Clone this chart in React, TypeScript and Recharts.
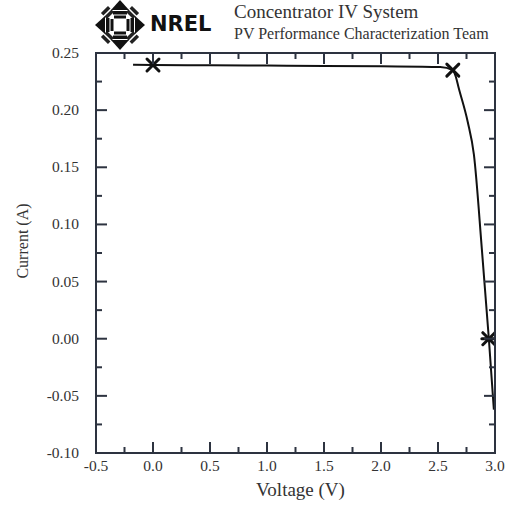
import { ComposedChart, Line, Scatter, XAxis, YAxis, CartesianGrid } from 'recharts'

// I-V curve
const voltage = [-0.175, 0.0, 0.5, 1.0, 1.5, 2.0, 2.52, 2.63, 2.657, 2.68, 2.76, 2.815, 2.885, 2.946, 2.99]
const current = [0.2397, 0.2395, 0.2393, 0.239, 0.2387, 0.2383, 0.2377, 0.235, 0.229, 0.22, 0.19, 0.161, 0.078, 0.0, -0.062]

// Isc, Pmax and Voc markers
const keyVoltage = [0.0, 2.63, 2.946]
const keyCurrent = [0.2395, 0.235, 0.0]
const keyShape = ['cross', 'cross', 'star']

const xTicks = [-0.5, -0.25, 0, 0.25, 0.5, 0.75, 1.0, 1.25, 1.5, 1.75, 2.0, 2.25, 2.5, 2.75, 3.0]
const xMajor = [-0.5, 0, 0.5, 1.0, 1.5, 2.0, 2.5, 3.0]
const yTicks = [-0.1, -0.075, -0.05, -0.025, 0, 0.025, 0.05, 0.075, 0.1, 0.125, 0.15, 0.175, 0.2, 0.225, 0.25]
const yMajor = [-0.1, -0.05, 0, 0.05, 0.1, 0.15, 0.2, 0.25]

const curve = voltage.map((v, i) => ({ v, i: current[i] }))
const markers = keyVoltage.map((v, k) => ({ v, i: keyCurrent[k], shape: keyShape[k] }))

const FONT = '"Liberation Serif", "DejaVu Serif", serif'
const INK = '#333'
const FRAME = '#2d3340'

// chart box and plot area size (plot = chart minus left axis, right margin, top margin, x axis)
const CHART_W = 508
const CHART_H = 506
const MARGIN = { top: 53, right: 13, bottom: 0, left: 0 }
const Y_AXIS_W = 96
const X_AXIS_H = 53
const PLOT_W = CHART_W - Y_AXIS_W - MARGIN.right
const PLOT_H = CHART_H - MARGIN.top - X_AXIS_H

const isMajor = (list: number[], v: number) => list.some((m) => Math.abs(m - v) < 1e-6)

// bottom tick + mirrored top tick; the first tick also draws the box around the plot
function BottomTick(props: any) {
  const x = Number(props.x)
  const y = Number(props.y)
  const value = props.payload.value
  const major = isMajor(xMajor, value)
  const len = major ? 11 : 6
  const top = y - PLOT_H
  return (
    <g>
      {Math.abs(value + 0.5) < 1e-6 && (
        <rect x={x} y={top} width={PLOT_W} height={PLOT_H} fill="none" stroke={FRAME} strokeWidth={2} />
      )}
      <line x1={x} x2={x} y1={y} y2={y - len} stroke={FRAME} strokeWidth={2} />
      <line x1={x} x2={x} y1={top} y2={top + len} stroke={FRAME} strokeWidth={2} />
      {major && (
        <text x={x} y={y + 18} textAnchor="middle" fontFamily={FONT} fontSize={15.5} fill={INK}>
          {value.toFixed(1)}
        </text>
      )}
    </g>
  )
}

// left tick + mirrored right tick
function LeftTick(props: any) {
  const x = Number(props.x)
  const y = Number(props.y)
  const value = props.payload.value
  const major = isMajor(yMajor, value)
  const len = major ? 11 : 6
  const right = x + PLOT_W
  return (
    <g>
      <line x1={x} x2={x + len} y1={y} y2={y} stroke={FRAME} strokeWidth={2} />
      <line x1={right} x2={right - len} y1={y} y2={y} stroke={FRAME} strokeWidth={2} />
      {major && (
        <text x={x - 17} y={y + 5} textAnchor="end" fontFamily={FONT} fontSize={15.5} fill={INK}>
          {value.toFixed(2)}
        </text>
      )}
    </g>
  )
}

function Marker({ cx, cy, payload }: any) {
  const s = 6
  return (
    <g stroke="#111" strokeWidth={3} strokeLinecap="round">
      <line x1={cx - s} y1={cy - s} x2={cx + s} y2={cy + s} />
      <line x1={cx - s} y1={cy + s} x2={cx + s} y2={cy - s} />
      {payload.shape === 'star' && <line x1={cx - s - 1} y1={cy} x2={cx + s + 1} y2={cy} />}
    </g>
  )
}

// small NREL mark drawn beside the title
function Logo() {
  const arms = [0, 45, 90, 135, 180, 225, 270, 315]
  return (
    <svg width={130} height={52} style={{ position: 'absolute', left: 92, top: 0 }}>
      <g transform="translate(28,25)">
        {arms.map((a) => (
          <g key={a} transform={`rotate(${a})`}>
            {a % 90 === 0 ? (
              <>
                <polygon points="-9,-15 9,-15 0,-25" fill="#111" />
                <rect x={-7} y={-14} width={14} height={3.5} fill="#111" />
                <rect x={-6} y={-9.5} width={12} height={3} fill="#111" />
              </>
            ) : (
              <>
                <rect x={-5} y={-22} width={10} height={3.5} fill="#222" />
                <rect x={-5} y={-17} width={10} height={3.5} fill="#222" />
              </>
            )}
          </g>
        ))}
      </g>
      <text x={58} y={31} fontFamily='"DejaVu Sans", sans-serif' fontWeight="bold" fontSize={21} fill="#111">
        NREL
      </text>
    </svg>
  )
}

export default function App() {
  return (
    <div style={{ position: 'absolute', left: 0, top: 0, width: CHART_W, height: CHART_H, background: '#fff' }}>
      <Logo />
      <div style={{ position: 'absolute', left: 234, top: 1, fontFamily: FONT, color: INK, whiteSpace: 'nowrap' }}>
        <div style={{ fontSize: 19, lineHeight: '21px' }}>Concentrator IV System</div>
        <div style={{ fontSize: 16, lineHeight: '18px', marginTop: 3 }}>PV Performance Characterization Team</div>
      </div>
      <div style={{ position: 'absolute', left: 0, top: 0 }}>
        <ComposedChart width={CHART_W} height={CHART_H} margin={MARGIN}>
          {/* frame only: one grid line at each edge of the plot */}
          <CartesianGrid
            stroke={FRAME}
            strokeWidth={2}
            horizontalCoordinatesGenerator={({ offset }: any) => [offset.top, offset.top + offset.height]}
            verticalCoordinatesGenerator={({ offset }: any) => [offset.left, offset.left + offset.width]}
          />
          <XAxis
            dataKey="v"
            type="number"
            domain={[-0.5, 3]}
            ticks={xTicks}
            interval={0}
            allowDataOverflow
            height={X_AXIS_H}
            tickSize={0}
            tickMargin={0}
            tickLine={false}
            axisLine={{ stroke: FRAME, strokeWidth: 2 }}
            tick={<BottomTick />}
            label={{
              content: ({ viewBox }: any) => (
                <text x={viewBox.x + viewBox.width / 2 + 5} y={viewBox.y + 43} textAnchor="middle" fontFamily={FONT} fontSize={19} fill={INK}>
                  Voltage (V)
                </text>
              ),
            }}
          />
          <YAxis
            dataKey="i"
            type="number"
            domain={[-0.1, 0.25]}
            ticks={yTicks}
            interval={0}
            allowDataOverflow
            width={Y_AXIS_W}
            tickSize={0}
            tickMargin={0}
            tickLine={false}
            axisLine={{ stroke: FRAME, strokeWidth: 2 }}
            tick={<LeftTick />}
            label={{
              content: ({ viewBox }: any) => {
                const cx = 22
                const cy = viewBox.y + viewBox.height / 2 - 12
                return (
                  <text x={cx} y={cy} transform={`rotate(-90 ${cx} ${cy})`} textAnchor="middle" dominantBaseline="central" fontFamily={FONT} fontSize={16} fill={INK}>
                    Current (A)
                  </text>
                )
              },
            }}
          />
          <Line
            data={curve}
            dataKey="i"
            type="monotone"
            stroke="#111"
            strokeWidth={2}
            dot={false}
            activeDot={false}
            isAnimationActive={false}
          />
          <Scatter data={markers} dataKey="i" shape={<Marker />} isAnimationActive={false} />
        </ComposedChart>
      </div>
    </div>
  )
}
